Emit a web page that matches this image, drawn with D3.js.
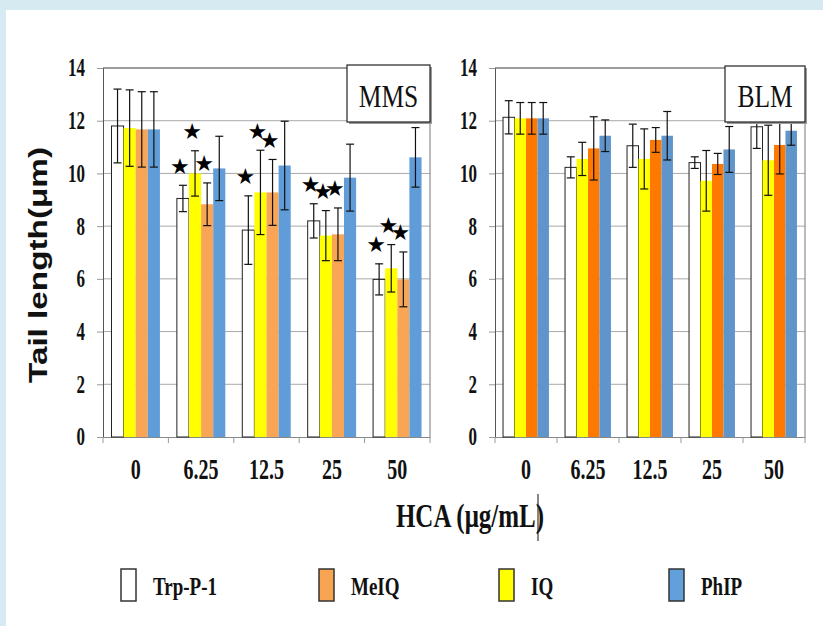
<!DOCTYPE html>
<html>
<head>
<meta charset="utf-8">
<script src="https://cdn.jsdelivr.net/npm/d3@7"></script>
<style>
body{margin:0;background:#d6eaf1;}
svg{display:block;}
</style>
</head>
<body>
<script>
// HCA doses (x categories) and compounds
var doses = ["0","6.25","12.5","25","50"];
var barOrder = ["Trp-P-1","IQ","MeIQ","PhIP"];      // order of bars inside a group
var legendOrder = ["Trp-P-1","MeIQ","IQ","PhIP"];
var yTicks = [0,2,4,6,8,10,12,14];

// MMS panel - mean tail length (um) and error
var mmsTrp  = [11.8, 9.05, 7.85, 8.2, 5.98];
var mmsIQ   = [11.72, 10.0, 9.28, 7.64, 6.4];
var mmsMeIQ = [11.67, 8.83, 9.28, 7.69, 5.98];
var mmsPhIP = [11.67, 10.19, 10.3, 9.84, 10.61];
var mmsTrpErr  = [1.4, 0.5, 1.3, 0.65, 0.59];
var mmsIQErr   = [1.45, 0.86, 1.6, 0.95, 0.9];
var mmsMeIQErr = [1.43, 0.81, 1.25, 1.0, 1.04];
var mmsPhIPErr = [1.43, 1.22, 1.68, 1.27, 1.13];

// BLM panel
var blmTrp  = [12.13, 10.23, 11.05, 10.41, 11.77];
var blmIQ   = [12.09, 10.55, 10.55, 9.72, 10.5];
var blmMeIQ = [12.09, 10.95, 11.27, 10.36, 11.08];
var blmPhIP = [12.09, 11.43, 11.43, 10.91, 11.62];
var blmTrpErr  = [0.63, 0.4, 0.82, 0.22, 0.82];
var blmIQErr   = [0.6, 0.63, 1.14, 1.15, 1.33];
var blmMeIQErr = [0.6, 1.2, 0.47, 0.4, 1.1];
var blmPhIPErr = [0.6, 0.6, 0.92, 0.87, 0.55];

// significance stars, MMS only: [dose index, bar index]
var mmsStars = [[1,0],[1,1],[1,2],[2,0],[2,1],[2,2],[3,0],[3,1],[3,2],[4,0],[4,1],[4,2]];

var W = 823, H = 626;
var serif = "'Liberation Serif','Times New Roman',serif";

var svg = d3.select("body").append("svg")
  .attr("width", W).attr("height", H);

// white sheet on light blue page
svg.append("rect").attr("x",6).attr("y",10).attr("width",W-6).attr("height",H-10).attr("fill","#fff");

var y = d3.scaleLinear().domain([0,14]).range([437,68]);

// text stretched vertically like the original picture
function stext(g, x, yy, str, size, sy, anchor, weight, family){
  return g.append("text")
    .attr("transform","translate("+x+","+yy+") scale(1,"+sy+")")
    .attr("text-anchor", anchor || "middle")
    .style("font-family", family || serif)
    .style("font-weight", weight || "bold")
    .style("font-size", size+"px")
    .attr("fill","#111")
    .text(str);
}

function panel(opt){
  var g = svg.append("g");
  var x = d3.scaleBand().domain(doses).range([opt.x0, opt.x1]).paddingInner(0).paddingOuter(0);
  var xs = d3.scaleBand().domain(barOrder).range([0, x.bandwidth()]).paddingInner(0).paddingOuter(0.7);

  // grid
  g.selectAll(".grid").data(yTicks.slice(1)).enter().append("line")
    .attr("x1", opt.x0).attr("x2", opt.x1)
    .attr("y1", function(d){return y(d);}).attr("y2", function(d){return y(d);})
    .attr("stroke","#a9a9a9").attr("stroke-width",1);

  // y axis
  var ya = g.append("g").attr("transform","translate("+opt.x0+",0)")
    .call(d3.axisLeft(y).tickValues(yTicks).tickSize(6).tickPadding(12));
  ya.select(".domain").attr("stroke","#555");
  ya.selectAll(".tick line").attr("stroke","#999");
  ya.selectAll(".tick text")
    .attr("transform","scale(1,1.45)")
    .style("font-family", serif).style("font-weight","bold").style("font-size","17px").attr("fill","#111");

  // x axis labels
  var xa = g.append("g").attr("transform","translate(0,"+y(0)+")")
    .call(d3.axisBottom(x).tickSize(0).tickPadding(14.5));
  xa.select(".domain").attr("stroke","#888");
  xa.selectAll(".tick text")
    .attr("transform","scale(1,1.45)")
    .style("font-family", serif).style("font-weight","bold").style("font-size","20px").attr("fill","#111");
  // boundary ticks
  var bounds = doses.map(function(d){return x(d);}).concat([opt.x1]);
  g.selectAll(".bt").data(bounds).enter().append("line")
    .attr("x1", function(d){return d;}).attr("x2", function(d){return d;})
    .attr("y1", y(0)).attr("y2", y(0)+6).attr("stroke","#999");

  // bars
  barOrder.forEach(function(s, si){
    var vals = opt.values[si], errs = opt.errs[si];
    var bg = g.append("g");
    bg.selectAll("rect").data(doses).enter().append("rect")
      .attr("x", function(d){return x(d)+xs(s);})
      .attr("y", function(d,i){return y(vals[i]);})
      .attr("width", xs.bandwidth())
      .attr("height", function(d,i){return y(0)-y(vals[i]);})
      .attr("fill", opt.colors[si])
      .attr("stroke", si===0 ? "#222" : "none")
      .attr("stroke-width", 1);
    // error bars
    doses.forEach(function(d,i){
      var cx = x(d)+xs(s)+xs.bandwidth()/2;
      var eg = bg.append("g").attr("stroke","#111").attr("stroke-width",1.2);
      eg.append("line").attr("x1",cx).attr("x2",cx).attr("y1",y(vals[i]+errs[i])).attr("y2",y(vals[i]-errs[i]));
      eg.append("line").attr("x1",cx-4).attr("x2",cx+4).attr("y1",y(vals[i]+errs[i])).attr("y2",y(vals[i]+errs[i]));
      eg.append("line").attr("x1",cx-4).attr("x2",cx+4).attr("y1",y(vals[i]-errs[i])).attr("y2",y(vals[i]-errs[i]));
    });
  });

  // stars
  (opt.stars || []).forEach(function(st){
    var d = doses[st[0]], s = barOrder[st[1]];
    var v = opt.values[st[1]][st[0]] + opt.errs[st[1]][st[0]];
    g.append("text")
      .attr("x", x(d)+xs(s)+xs.bandwidth()/2-3)
      .attr("y", y(v)-19)
      .attr("text-anchor","middle").attr("dominant-baseline","central")
      .style("font-family","'DejaVu Sans',sans-serif").style("font-size","22px")
      .attr("fill","#000").text("\u2605");
  });

  // frame
  g.append("line").attr("x1",opt.x0).attr("x2",opt.x1).attr("y1",y(14)).attr("y2",y(14)).attr("stroke","#666");
  g.append("line").attr("x1",opt.x1).attr("x2",opt.x1).attr("y1",y(14)).attr("y2",y(0)).attr("stroke","#777");

  // label box
  g.append("rect").attr("x",opt.box[0]+2).attr("y",opt.box[1]+2).attr("width",opt.box[2]).attr("height",opt.box[3])
    .attr("fill","#9a9a9a");
  g.append("rect").attr("x",opt.box[0]).attr("y",opt.box[1]).attr("width",opt.box[2]).attr("height",opt.box[3])
    .attr("fill","#fff").attr("stroke","#222").attr("stroke-width",1.2);
  stext(g, opt.box[0]+opt.box[2]/2, 107, opt.label, 25.5, 1.27, "middle", "normal");
}

panel({
  x0:103, x1:430, label:"MMS", box:[347,65,83,57],
  colors:["#ffffff","#ffff00","#f8a556","#5f9cd8"],
  values:[mmsTrp, mmsIQ, mmsMeIQ, mmsPhIP],
  errs:[mmsTrpErr, mmsIQErr, mmsMeIQErr, mmsPhIPErr],
  stars: mmsStars
});
panel({
  x0:495, x1:805, label:"BLM", box:[725,66,80,56],
  colors:["#ffffff","#ffff00","#ff7800","#6095cb"],
  values:[blmTrp, blmIQ, blmMeIQ, blmPhIP],
  errs:[blmTrpErr, blmIQErr, blmMeIQErr, blmPhIPErr]
});

// y axis title
svg.append("text")
  .attr("transform","translate(47,265) rotate(-90)")
  .attr("text-anchor","middle")
  .attr("textLength",236).attr("lengthAdjust","spacingAndGlyphs")
  .style("font-family","'Liberation Sans',Arial,sans-serif").style("font-weight","bold").style("font-size","25px")
  .attr("fill","#111")
  .text("Tail length(\u03bcm)");

// x axis title (with the stray cursor mark of the original)
stext(svg, 470, 527, "HCA (\u03bcg/mL)", 25, 1.35, "middle", "bold");
svg.append("line").attr("x1",538).attr("x2",538).attr("y1",494).attr("y2",541).attr("stroke","#111").attr("stroke-width",1);

// legend
var legColors = {"Trp-P-1":"#ffffff","MeIQ":"#f8a553","IQ":"#ffff00","PhIP":"#62a0dc"};
var legX = d3.scaleOrdinal().domain(legendOrder).range([121, 319, 499, 669]);
var lg = svg.append("g");
legendOrder.forEach(function(k){
  var lx = legX(k);
  lg.append("rect").attr("x",lx).attr("y",569).attr("width",15).attr("height",32)
    .attr("fill",legColors[k]).attr("stroke","#333").attr("stroke-width",1.5);
  stext(lg, lx+32, 595, k, 19, 1.35, "start", "bold");
});
</script>
</body>
</html>
